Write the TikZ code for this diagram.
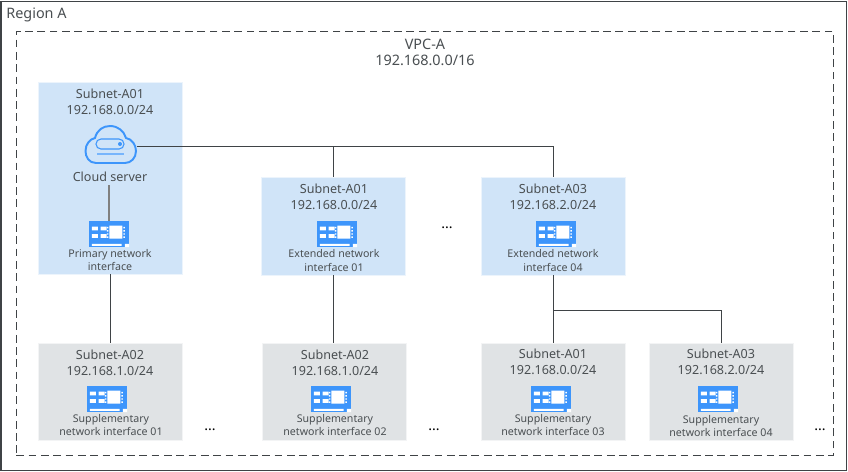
\documentclass[tikz,border=0pt]{standalone}
\usepackage{fontspec}
\setmainfont{Noto Sans}
\definecolor{textgray}{HTML}{4A4F52}
\definecolor{linegray}{HTML}{3F4346}
\definecolor{subnetblue}{HTML}{D0E4F8}
\definecolor{subnetgray}{HTML}{E0E3E5}
\definecolor{iconblue}{HTML}{3D95FB}
\tikzset{
    subnetbox/.style = {draw = white!60!#1, fill = #1, line width = 0.4pt, inner sep = 0pt, anchor = north west},
    subnetlabel/.style = {text = textgray, font = \fontsize{7.15}{8.8}\selectfont, align = center, inner sep = 0pt},
    niclabel/.style = {text = textgray, font = \fontsize{6.05}{7.5}\selectfont, align = center, inner sep = 0pt},
    titlelabel/.style = {text = textgray, font = \fontsize{8.2}{9.5}\selectfont, align = center, inner sep = 0pt},
    dotslabel/.style = {text = black, font = \fontsize{8}{9}\selectfont\bfseries, inner sep = 0pt},
    wire/.style = {draw = linegray, line width = 0.5pt},
    nic/.style = {
        fill = iconblue, minimum width = 22.8pt, minimum height = 14.8pt, inner sep = 0pt,
        path picture = {
            \fill [white]
            (path picture bounding box.south west) ++(1.6pt,0.6pt) rectangle ++(17pt,1.2pt)
            (path picture bounding box.south east) ++(-2.4pt,0pt) rectangle ++(2.4pt,1.8pt)
            ;
            \fill [white]
            (path picture bounding box.north west) ++(1.6pt,-3.2pt) rectangle ++(3.4pt,-2.2pt)
            (path picture bounding box.north west) ++(6.6pt,-3.2pt) rectangle ++(3.4pt,-2.2pt)
            (path picture bounding box.north west) ++(1.6pt,-7.4pt) rectangle ++(3.4pt,-2.2pt)
            (path picture bounding box.north west) ++(6.6pt,-7.4pt) rectangle ++(3.4pt,-2.2pt)
            (path picture bounding box.north west) ++(11.6pt,-2.6pt) rectangle ++(7.4pt,-7.4pt)
            ;
            %% ...contact dots
            \foreach \doty in {-3.4,-5.2,-7,-8.8} {
                \fill [white]
                (path picture bounding box.north west) ++(10.2pt,\doty pt) rectangle ++(0.8pt,-0.8pt)
                (path picture bounding box.north west) ++(19.6pt,\doty pt) rectangle ++(0.8pt,-0.8pt)
                ;
            }
        }
    },
}
\begin{document}
\begin{tikzpicture}[x = 0.02cm, y = -0.02cm]
            \useasboundingbox (0,0) rectangle (848,471);
            \fill [white] (0,0) rectangle (848,471);
            %% region and vpc
            \node (regionA) [draw = linegray, line width = 0.7pt, minimum width = 845.5*0.02cm, minimum height = 469*0.02cm, inner sep = 0pt, anchor = north west] at (0.5,0.5) {};
            \node (vpcA) [draw = linegray, line width = 0.5pt, dash pattern = on 4.4pt off 2.6pt, minimum width = 817*0.02cm, minimum height = 424*0.02cm, inner sep = 0pt, anchor = north west] at (16,31) {};
            \node (regionlabel) [titlelabel, anchor = west] at (6,15) {Region A};
            \node (vpclabel) [titlelabel] at (425,52.5) {VPC-A\\192.168.0.0/16};
            %% subnet boxes
            \node (primary) [subnetbox = subnetblue, minimum width = 144*0.02cm, minimum height = 192*0.02cm] at (38,81.5) {};
            \node (extA) [subnetbox = subnetblue, minimum width = 144*0.02cm, minimum height = 98*0.02cm] at (261,176.5) {};
            \node (extB) [subnetbox = subnetblue, minimum width = 144*0.02cm, minimum height = 98*0.02cm] at (481,176.5) {};
            \node (supA) [subnetbox = subnetgray, minimum width = 144*0.02cm, minimum height = 97*0.02cm] at (38,342.5) {};
            \node (supB) [subnetbox = subnetgray, minimum width = 144*0.02cm, minimum height = 97*0.02cm] at (262,342.5) {};
            \node (supC) [subnetbox = subnetgray, minimum width = 144*0.02cm, minimum height = 97*0.02cm] at (481,342.5) {};
            \node (supD) [subnetbox = subnetgray, minimum width = 144*0.02cm, minimum height = 97*0.02cm] at (649,342.5) {};
            %% subnet labels
            \node (primarylabel) [subnetlabel] at (110,102) {Subnet-A01\\192.168.0.0/24};
            \node (extAlabel) [subnetlabel] at (334,197) {Subnet-A01\\192.168.0.0/24};
            \node (extBlabel) [subnetlabel] at (553,197) {Subnet-A03\\192.168.2.0/24};
            \node (supAlabel) [subnetlabel] at (110,363) {Subnet-A02\\192.168.1.0/24};
            \node (supBlabel) [subnetlabel] at (335,363) {Subnet-A02\\192.168.1.0/24};
            \node (supClabel) [subnetlabel] at (553,362) {Subnet-A01\\192.168.0.0/24};
            \node (supDlabel) [subnetlabel] at (721,362) {Subnet-A03\\192.168.2.0/24};
            %% cloud server
            \node (cloud) [minimum width = 53*0.02cm, minimum height = 39*0.02cm, inner sep = 0pt] at (110.5,146.5) {};
            \draw [iconblue, line width = 1.1pt]
            (96,163) .. controls (89,163) and (85.5,157) .. (85.5,151)
            .. controls (85.5,144) and (90,139) .. (95,138)
            .. controls (97,130) and (103,126) .. (110,126)
            .. controls (118,126) and (124,131) .. (126,138)
            .. controls (132,139) and (136,145) .. (136,151)
            .. controls (136,158) and (131,163) .. (125,163)
            -- cycle
            ;
            \draw [iconblue, line width = 0.6pt, rounded corners = 2.8pt]
            (96,139) rectangle (124,149)
            ;
            \fill [iconblue] (120,144) circle (2);
            \draw [iconblue!70!white, line width = 0.6pt] (97,154) -- (124,154);
            \node (cloudlabel) [subnetlabel] at (110,177) {Cloud server};
            %% network interfaces
            \node (nicprimary) [nic] at (109,234) {};
            \node (nicextA) [nic] at (337,234) {};
            \node (nicextB) [nic] at (556,234) {};
            \node (nicsupA) [nic] at (107,399) {};
            \node (nicsupB) [nic] at (331,399) {};
            \node (nicsupC) [nic] at (551,399) {};
            \node (nicsupD) [nic] at (718,399) {};
            \node (nicprimarylabel) [niclabel] at (110,260) {Primary network\\interface};
            \node (nicextAlabel) [niclabel] at (334,260.5) {Extended network\\interface 01};
            \node (nicextBlabel) [niclabel] at (553,260.5) {Extended network\\interface 04};
            \node (nicsupAlabel) [niclabel] at (111,425) {Supplementary\\network interface 01};
            \node (nicsupBlabel) [niclabel] at (335,425) {Supplementary\\network interface 02};
            \node (nicsupClabel) [niclabel] at (553,425) {Supplementary\\network interface 03};
            \node (nicsupDlabel) [niclabel] at (721,426) {Supplementary\\network interface 04};
            %% connectors
            \coordinate (branch) at (553,310.5);
            \draw [wire] (cloud.east) -| (extB.north);
            \draw [wire] (cloud.east -| extA.north) -- (extA.north);
            \draw [wire] (primary.south) -- (supA.north);
            \draw [wire] (extA.south) -- (supB.north -| extA.south);
            \draw [wire] (extB.south) -- (supC.north);
            \draw [wire] (branch) -| (supD.north);
            \draw [draw = black!50, line width = 0.9pt] (cloudlabel.south -| nicprimary) ++(0,3) -- (nicprimary.north);
            %% dots
            \node (dotsext) [dotslabel] at (447,228) {...};
            \node (dotssupA) [dotslabel] at (210,430) {...};
            \node (dotssupB) [dotslabel] at (434,430) {...};
            \node (dotssupD) [dotslabel] at (820,430) {...};
\end{tikzpicture}
\end{document}
